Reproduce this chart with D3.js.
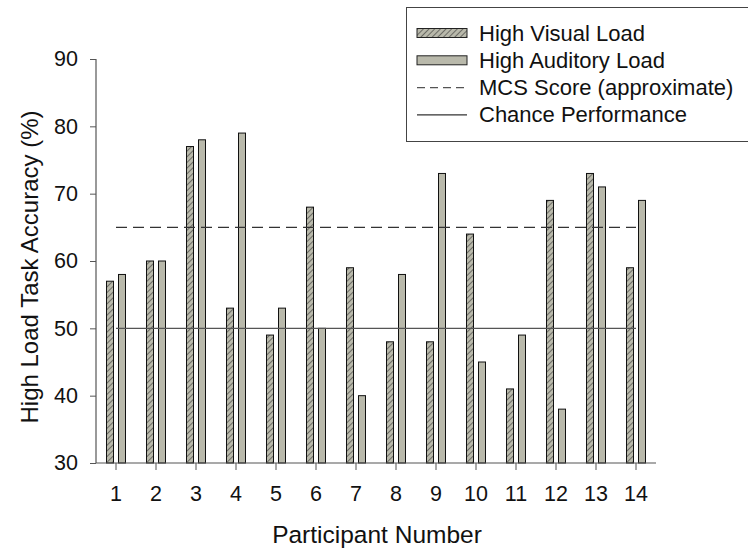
<!DOCTYPE html>
<html>
<head>
<meta charset="utf-8">
<script src="https://cdn.jsdelivr.net/npm/d3@7"></script>
<style>
  html, body { margin: 0; padding: 0; background: #fff; }
  svg { display: block; font-family: "Liberation Sans", Arial, sans-serif; }
</style>
</head>
<body>
<svg id="chart" width="748" height="550"></svg>
<script>
// Participant numbers along the x axis
const participants = [1, 2, 3, 4, 5, 6, 7, 8, 9, 10, 11, 12, 13, 14];
// Accuracy (%) under each load condition
const visualLoad   = [57, 60, 77, 53, 49, 68, 59, 48, 48, 64, 41, 69, 73, 59];
const auditoryLoad = [58, 60, 78, 79, 53, 50, 40, 58, 73, 45, 49, 38, 71, 69];
// Reference levels
const mcsScore = 65;
const chanceLevel = 50;
// Axis ticks
const yTicks = [30, 40, 50, 60, 70, 80, 90];
const seriesNames = ["High Visual Load", "High Auditory Load"];
const lineNames = ["MCS Score (approximate)", "Chance Performance"];

const svg = d3.select("#chart");
const fill = "#b9b9ab";

// Diagonal hatch for the visual-load bars
const defs = svg.append("defs");
const pat = defs.append("pattern")
  .attr("id", "hatch")
  .attr("patternUnits", "userSpaceOnUse")
  .attr("width", 4).attr("height", 4)
  .attr("patternTransform", "rotate(45)");
pat.append("rect").attr("width", 4).attr("height", 4).attr("fill", fill);
pat.append("line").attr("x1", 0).attr("y1", 0).attr("x2", 0).attr("y2", 4)
  .attr("stroke", "#2a2a2a").attr("stroke-width", 1.1);

const x = d3.scaleBand().domain(participants).range([96, 656]).padding(0);
const y = d3.scaleLinear().domain([30, 90]).range([463, 59]);
const inner = d3.scaleBand().domain(seriesNames).range([-9.5, 9.5])
  .paddingInner(5 / 12).paddingOuter(0);

const rows = participants.map((p, i) => ({ p, v: [visualLoad[i], auditoryLoad[i]] }));

// Bars
const groups = svg.append("g").selectAll("g").data(rows).join("g")
  .attr("transform", d => `translate(${x(d.p) + x.bandwidth() / 2},0)`);
groups.selectAll("rect")
  .data(d => d.v.map((val, k) => ({ name: seriesNames[k], val, k })))
  .join("rect")
  .attr("x", d => inner(d.name))
  .attr("width", inner.bandwidth())
  .attr("y", d => y(d.val))
  .attr("height", d => y(30) - y(d.val))
  .attr("fill", d => d.k === 0 ? "url(#hatch)" : fill)
  .attr("stroke", "#111")
  .attr("stroke-width", 1);

// Reference lines spanning first to last participant
const xStart = x(participants[0]) + x.bandwidth() / 2;
const xEnd = x(participants[participants.length - 1]) + x.bandwidth() / 2;
svg.append("line")
  .attr("x1", xStart).attr("x2", xEnd)
  .attr("y1", y(mcsScore)).attr("y2", y(mcsScore))
  .attr("stroke", "#333").attr("stroke-width", 1.2)
  .attr("stroke-dasharray", "11,6");
svg.append("line")
  .attr("x1", xStart).attr("x2", xEnd)
  .attr("y1", y(chanceLevel)).attr("y2", y(chanceLevel))
  .attr("stroke", "#555").attr("stroke-width", 1.2);

// Axes
const yAxis = svg.append("g").attr("transform", "translate(96,0)")
  .call(d3.axisLeft(y).tickValues(yTicks).tickSize(6).tickPadding(12));
const xAxis = svg.append("g").attr("transform", "translate(0,463)")
  .call(d3.axisBottom(x).tickSize(7).tickPadding(16));
[yAxis, xAxis].forEach(a => {
  a.select(".domain").attr("stroke", "#555").attr("stroke-width", 1.2);
  a.selectAll(".tick line").attr("stroke", "#555");
  a.selectAll(".tick text").attr("font-size", 21.5)
    .attr("font-family", "Liberation Sans, Arial, sans-serif").attr("fill", "#111");
});
yAxis.select(".domain").attr("d", "M0,59V463");
xAxis.select(".domain").attr("d", "M96,0H656");

// Axis titles
svg.append("text")
  .attr("transform", "translate(38,267) rotate(-90)")
  .attr("text-anchor", "middle")
  .attr("font-size", 24).attr("fill", "#111")
  .text("High Load Task Accuracy (%)");
svg.append("text")
  .attr("x", 377).attr("y", 543)
  .attr("text-anchor", "middle")
  .attr("font-size", 24.5).attr("fill", "#111")
  .text("Participant Number");

// Legend
const legend = svg.append("g");
legend.append("rect")
  .attr("x", 406.5).attr("y", 7.5).attr("width", 360).attr("height", 134)
  .attr("fill", "#fff").attr("stroke", "#444").attr("stroke-width", 1);
const items = [
  { label: seriesNames[0], kind: "hatch" },
  { label: seriesNames[1], kind: "solid" },
  { label: lineNames[0], kind: "dash" },
  { label: lineNames[1], kind: "line" }
];
const li = legend.selectAll("g.item").data(items).join("g")
  .attr("class", "item")
  .attr("transform", (d, i) => `translate(0,${33 + i * 27.3})`);
li.filter(d => d.kind === "hatch" || d.kind === "solid")
  .append("rect")
  .attr("x", 417).attr("y", -4.5).attr("width", 50).attr("height", 9)
  .attr("fill", d => d.kind === "hatch" ? "url(#hatch)" : fill)
  .attr("stroke", "#222").attr("stroke-width", 1);
li.filter(d => d.kind === "dash" || d.kind === "line")
  .append("line")
  .attr("x1", 417).attr("x2", 467).attr("y1", 0).attr("y2", 0)
  .attr("stroke", d => d.kind === "dash" ? "#555" : "#333")
  .attr("stroke-width", 1.2)
  .attr("stroke-dasharray", d => d.kind === "dash" ? "8,5" : null);
li.append("text")
  .attr("x", 479).attr("y", 7.5)
  .attr("font-size", 22).attr("fill", "#111")
  .text(d => d.label);
</script>
</body>
</html>
